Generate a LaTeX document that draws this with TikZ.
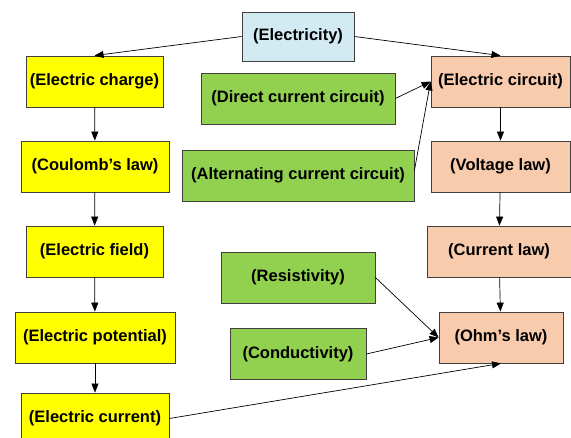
\documentclass[tikz,border=0pt]{standalone}
\usepackage{fontspec}
\setmainfont{Liberation Sans}
\usetikzlibrary{arrows.meta}

\definecolor{boxblue}{RGB}{210,234,241}
\definecolor{boxyellow}{RGB}{255,255,0}
\definecolor{boxgreen}{RGB}{146,208,80}
\definecolor{boxpeach}{RGB}{248,203,173}

\tikzset{
	topic/.style={draw=black!75, line width=0.8pt, inner sep=0pt, minimum height=51pt, font=\bfseries\fontsize{16.5}{19}\selectfont},
	link/.style={-{Triangle[length=9pt,width=7pt]}, line width=0.7pt}
}

\begin{document}
\begin{tikzpicture}[x=1pt, y=-1pt]

		\clip (0,0) rectangle (571,438);

		\node[topic, fill=boxblue, minimum width=112pt, minimum height=49pt] (elec) at (298,36.5) {(Electricity)};

		\node[topic, fill=boxyellow, minimum width=137pt] (charge) at (94.5,81.5) {(Electric charge)};
		\node[topic, fill=boxyellow, minimum width=148pt] (coulomb) at (95,166.5) {(Coulomb’s law)};
		\node[topic, fill=boxyellow, minimum width=137pt] (field) at (94.5,251.5) {(Electric field)};
		\node[topic, fill=boxyellow, minimum width=160pt] (potential) at (95,337.5) {(Electric potential)};
		\node[topic, fill=boxyellow, minimum width=148pt] (current) at (95,418.5) {(Electric current)};

		\node[topic, fill=boxgreen, minimum width=194pt] (dc) at (298,98.5) {(Direct current circuit)};
		\node[topic, fill=boxgreen, minimum width=232pt] (ac) at (298,175.5) {(Alternating current circuit)};
		\node[topic, fill=boxgreen, minimum width=154pt] (resist) at (298,277.5) {(Resistivity)};
		\node[topic, fill=boxgreen, minimum width=136pt] (conduct) at (298,354) {(Conductivity)};

		\node[topic, fill=boxpeach, minimum width=139pt] (circuit) at (500.5,81.5) {(Electric circuit)};
		\node[topic, fill=boxpeach, minimum width=139pt] (voltage) at (500.5,166.5) {(Voltage law)};
		\node[topic, fill=boxpeach, minimum width=144pt] (curlaw) at (499,251.5) {(Current law)};
		\node[topic, fill=boxpeach, minimum width=124pt] (ohm) at (501,337.5) {(Ohm’s law)};

		\draw[link] (elec.west) -- (charge.north);
		\draw[link] (elec.east) -- (circuit.north);

		\draw[link] (charge) -- (coulomb);
		\draw[link] (coulomb) -- (field);
		\draw[link] (field) -- (potential);
		\draw[link] (potential) -- (current);

		\draw[link] (dc.east) -- (circuit.west);
		\draw[link] ([yshift=5pt]ac.east) -- (circuit.west);

		\draw[link] (circuit) -- (voltage);
		\draw[link] (voltage) -- (curlaw);
		\draw[link] (curlaw) -- (ohm);

		\draw[link] (resist.east) -- (ohm.west);
		\draw[link] (conduct.east) -- (ohm.west);
		\draw[link] (current.east) -- (ohm.south);

	\end{tikzpicture}
\end{document}
